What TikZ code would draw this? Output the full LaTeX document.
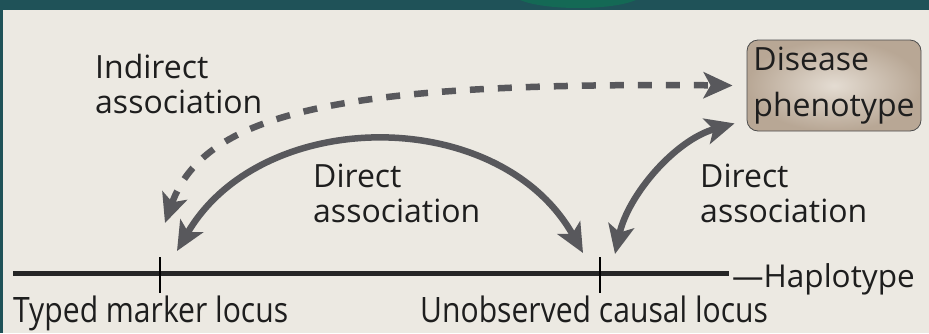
\documentclass[tikz,border=0pt]{standalone}
\usepackage{fontspec}
\setmainfont{Open Sans}
\newfontfamily\condfont[FakeStretch=0.86]{Open Sans}
\usepackage{tikz}
\usetikzlibrary{arrows.meta,calc}
\definecolor{fond}{RGB}{236,233,226}
\definecolor{bande}{RGB}{31,82,88}
\definecolor{tache}{RGB}{20,105,85}
\definecolor{fleche}{RGB}{88,88,92}
\definecolor{texte}{RGB}{30,30,30}
\definecolor{boite}{RGB}{184,167,149}
\definecolor{boiteclair}{RGB}{228,220,210}

\begin{document}
\begin{tikzpicture}[x=1pt,y=-1pt,
  lbl/.style={font=\fontsize{32}{35}\selectfont, text=texte, align=left, anchor=base west, inner sep=0pt},
  locus/.style={font=\condfont\fontsize{35}{40}\selectfont, text=texte, anchor=base west, inner sep=0pt},
  pheno/.style={draw=black!70, line width=0.8pt, rounded corners=11pt, inner color=boiteclair, outer color=boite,
    minimum width=174pt, minimum height=91pt, align=left, font=\fontsize{32}{46}\selectfont, text=texte, inner sep=0pt},
  assoc/.style={{Stealth[length=29pt,width=26pt,inset=7pt]}-{Stealth[length=29pt,width=26pt,inset=7pt]}, fleche, line width=6.5pt},
  indirect/.style={assoc, dash pattern=on 14pt off 14pt},
  haplo/.style={line width=5pt, black!85},
  repere/.style={line width=1.3pt, black}]
  \useasboundingbox (0,0) rectangle (929,333);
  % fond
  \fill[fond] (0,0) rectangle (929,333);
  \fill[bande] (0,0) rectangle (929,10);
  \begin{scope}
    \clip (0,0) rectangle (929,10);
    \fill[tache] (578,-6) ellipse [x radius=64, y radius=14];
  \end{scope}
  \fill[bande] (0,0) rectangle (2.5,333);
  % haplotype et loci
  \coordinate (hapL) at (13,273);
  \coordinate (hapR) at (729,273);
  \coordinate (mk) at (160,273);
  \coordinate (cs) at (600,273);
  \draw[haplo] (hapL) -- (hapR);
  \draw[repere] ([shift={(0,-16)}]mk) -- ([shift={(0,20)}]mk);
  \draw[repere] ([shift={(0,-16)}]cs) -- ([shift={(0,20)}]cs);
  \node[lbl, font=\fontsize{31.5}{35}\selectfont] (hap) at (732,287) {—Haplotype};
  \node[locus] (mkl) at (13,322) {Typed marker locus};
  \node[locus] (csl) at (420,322) {Unobserved causal locus};
  % phénotype et étiquettes
  \node[pheno] (pheno) at (834,85.5) {Disease\\phenotype};
  \node[lbl] (indir) at (95,113) {Indirect\\association};
  \node[lbl] (dirA) at (313,222) {Direct\\association};
  \node[lbl] (dirB) at (700,222) {Direct\\association};
  % associations
  \draw[indirect] ([shift={(5,-50)}]mk) .. controls (205,110) and (350,82) .. ([shift={(-14,0)}]pheno.west);
  \draw[assoc] ([shift={(17,-22)}]mk) .. controls (262,105) and (500,105) .. ([shift={(-17,-20)}]cs);
  \draw[assoc] ([shift={(15,-19)}]cs) .. controls (628,195) and (675,140) .. ([shift={(-12,-8)}]pheno.south west);
\end{tikzpicture}
\end{document}
